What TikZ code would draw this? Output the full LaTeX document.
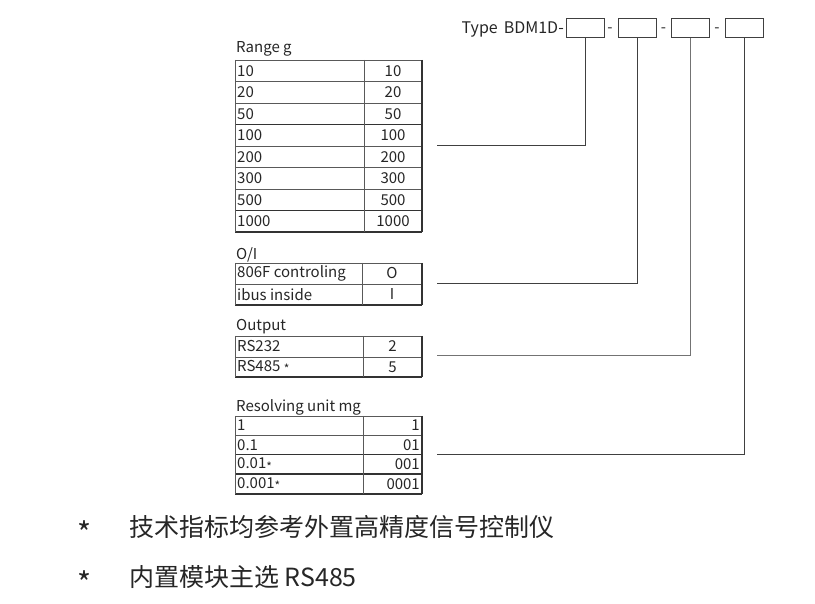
\documentclass[tikz,border=0pt]{standalone}
\usepackage{fontspec}
\setmainfont{Noto Sans CJK SC}
\usetikzlibrary{positioning}
\newcommand{\tabfont}{\fontsize{15}{17}\selectfont}
\newcommand{\notefont}{\fontsize{25}{28}\selectfont}
\newcommand{\smallstar}{\raisebox{-2.5pt}{\fontsize{12}{12}\selectfont *}}
\tikzset{
  tabline/.style={draw=black!65,line width=0.9pt},
  tabedge/.style={draw=black!80,line width=1.4pt},
  link/.style={draw=black!75,line width=1pt},
  codebox/.style={draw=black!75,line width=1pt,minimum width=38pt,minimum height=19pt,inner sep=0pt}
}

\begin{document}
\begin{tikzpicture}[x=1pt,y=-1pt,every node/.style={font=\tabfont,inner sep=0pt,text=black!85}]
\useasboundingbox (0,0) rectangle (815,604);

% type code
\node[anchor=east,font=\fontsize{16}{18}\selectfont] (type) at (564,30) {Type\hspace{6pt}BDM1D-};
\node[codebox] (box1) at (585,28) {};
\node (dash1) at (610,30) {-};
\node[codebox] (box2) at (637.5,28) {};
\node (dash2) at (663.5,30) {-};
\node[codebox] (box3) at (690.5,28) {};
\node (dash3) at (717,30) {-};
\node[codebox] (box4) at (744,28) {};

% range table
\node[anchor=west] (range) at (236,49) {Range g};
\draw[tabline] (235,60) -- (422,60);
\draw[tabline] (235,81.5) -- (422,81.5);
\draw[tabline] (235,103) -- (422,103);
\draw[tabedge] (235,124.5) -- (422,124.5);
\draw[tabline] (235,146) -- (422,146);
\draw[tabline] (235,167.5) -- (422,167.5);
\draw[tabline] (235,189) -- (422,189);
\draw[tabedge] (235,210.5) -- (422,210.5);
\draw[tabedge] (235,232) -- (422,232);
\draw[tabline,line width=0.5pt] (235,60) -- (235,232);
\draw[tabline] (364,60) -- (364,232);
\draw[tabedge] (422,60) -- (422,232);
\node[anchor=west] (r10) at (237,70.8) {10};      \node (v10) at (393,70.8) {10};
\node[anchor=west] (r20) at (237,92.3) {20};      \node (v20) at (393,92.3) {20};
\node[anchor=west] (r50) at (237,113.8) {50};     \node (v50) at (393,113.8) {50};
\node[anchor=west] (r100) at (237,135.3) {100};   \node (v100) at (393,135.3) {100};
\node[anchor=west] (r200) at (237,156.8) {200};   \node (v200) at (393,156.8) {200};
\node[anchor=west] (r300) at (237,178.3) {300};   \node (v300) at (393,178.3) {300};
\node[anchor=west] (r500) at (237,199.8) {500};   \node (v500) at (393,199.8) {500};
\node[anchor=west] (r1000) at (237,221.3) {1000}; \node (v1000) at (393,221.3) {1000};

% o/i table
\node[anchor=west] (oi) at (236,255) {O/I};
\draw[tabline] (235,263) -- (422,263);
\draw[tabline] (235,284) -- (422,284);
\draw[tabedge] (235,305) -- (422,305);
\draw[tabline,line width=0.5pt] (235,263) -- (235,305);
\draw[tabline] (362,263) -- (362,305);
\draw[tabedge] (422,263) -- (422,305);
\node[anchor=west] (r806) at (237,273.5) {806F controling}; \node (vO) at (392,273.5) {O};
\node[anchor=west] (ribus) at (237,294.5) {ibus inside};    \node (vI) at (392,294.5) {I};

% output table
\node[anchor=west] (output) at (236,327) {Output};
\draw[tabline] (235,336) -- (422,336);
\draw[tabline] (235,357) -- (422,357);
\draw[tabedge] (235,377) -- (422,377);
\draw[tabline,line width=0.5pt] (235,336) -- (235,377);
\draw[tabline] (363,336) -- (363,377);
\draw[tabedge] (422,336) -- (422,377);
\node[anchor=west] (r232) at (237,346.5) {RS232};             \node (v2) at (392.5,346.5) {2};
\node[anchor=west] (r485) at (237,367) {RS485 \smallstar};    \node (v5) at (392.5,367) {5};

% resolving table
\node[anchor=west] (resolv) at (236,407) {Resolving unit mg};
\draw[tabline] (235,416) -- (422,416);
\draw[tabline] (235,435) -- (422,435);
\draw[tabedge] (235,454.5) -- (422,454.5);
\draw[tabedge] (235,474) -- (422,474);
\draw[tabedge] (235,494) -- (422,494);
\draw[tabline,line width=0.5pt] (235,416) -- (235,494);
\draw[tabline] (363,416) -- (363,494);
\draw[tabedge] (422,416) -- (422,494);
\node[anchor=west] (r1) at (237,425.5) {1};                  \node[anchor=east] (v1) at (420,425.5) {1};
\node[anchor=west] (r01) at (237,445) {0.1};                 \node[anchor=east] (v01) at (420,445) {01};
\node[anchor=west] (r001) at (237,464.5) {0.01\smallstar};   \node[anchor=east] (v001) at (420,464.5) {001};
\node[anchor=west] (r0001) at (237,484) {0.001\smallstar};   \node[anchor=east] (v0001) at (420,484) {0001};

% links to the code boxes
\coordinate (rangeout) at (437,146);
\coordinate (oiout) at (437,284);
\coordinate (outout) at (437,356);
\coordinate (resout) at (437,454);
\draw[link] (rangeout) -| (box1);
\draw[link] (oiout) -| (box2);
\draw[link,draw=black!55] (outout) -| (box3);
\draw[link] (resout) -| (box4);

% notes
\node[font=\fontsize{30}{30}\selectfont] (star1) at (85,533) {*};
\node[font=\notefont,anchor=west] (note1) at (129,527) {技术指标均参考外置高精度信号控制仪};
\node[font=\fontsize{30}{30}\selectfont] (star2) at (85,583) {*};
\node[font=\notefont,anchor=west] (note2) at (129,577) {内置模块主选 RS485};

\end{tikzpicture}
\end{document}
